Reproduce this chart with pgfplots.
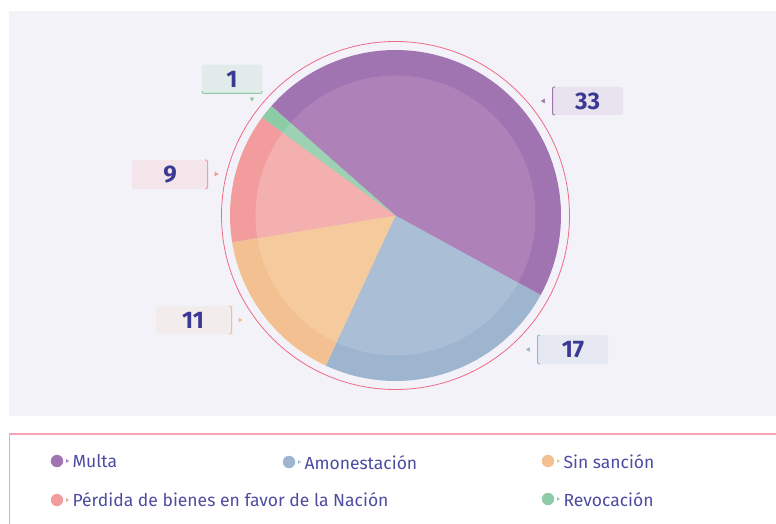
\documentclass[border=0pt]{standalone}
\usepackage{pgfplots}
\usepackage{pgfplotstable}
\pgfplotsset{compat=1.18}
\usepackage{fontspec}
\setmainfont{Fira Sans}
\definecolor{bgc}{HTML}{F3F2F8}
\definecolor{mO}{HTML}{A074B1}\definecolor{mI}{HTML}{AE82B9}
\definecolor{aO}{HTML}{9DB5CF}\definecolor{aI}{HTML}{AABED6}
\definecolor{sO}{HTML}{F2C091}\definecolor{sI}{HTML}{F5CB9E}
\definecolor{pO}{HTML}{F29C9E}\definecolor{pI}{HTML}{F4B0AF}
\definecolor{rO}{HTML}{8DCAA6}\definecolor{rI}{HTML}{9CD1B4}
\definecolor{ring}{HTML}{EE6A88}
\definecolor{txt}{HTML}{3A3A94}
\definecolor{ltxt}{HTML}{4C4CA0}
\definecolor{lgb}{HTML}{F4A3B6}
\pgfplotstableread{
name value
Multa 33
Amonestacion 17
Sin 11
Perdida 9
Revocacion 1
}\pietable
\begin{document}
\begin{tikzpicture}
\pgfplotstablegetelem{0}{value}\of\pietable \let\vA\pgfplotsretval
\pgfplotstablegetelem{1}{value}\of\pietable \let\vB\pgfplotsretval
\pgfplotstablegetelem{2}{value}\of\pietable \let\vC\pgfplotsretval
\pgfplotstablegetelem{3}{value}\of\pietable \let\vD\pgfplotsretval
\pgfplotstablegetelem{4}{value}\of\pietable \let\vE\pgfplotsretval
\pgfmathsetmacro{\tot}{\vA+\vB+\vC+\vD+\vE}
\pgfmathsetmacro{\aZ}{138.6}
\pgfmathsetmacro{\aA}{\aZ-360*\vA/\tot}
\pgfmathsetmacro{\aB}{\aA-360*\vB/\tot}
\pgfmathsetmacro{\aC}{\aB-360*\vC/\tot}
\pgfmathsetmacro{\aD}{\aC-360*\vD/\tot}
\pgfmathsetmacro{\aE}{\aD-360*\vE/\tot}
\def\cx{395.5}\def\cy{307.5}\def\R{165.5}\def\r{140}
\begin{axis}[name=main,width=776pt,height=523pt,scale only axis,
  xmin=0,xmax=776,ymin=0,ymax=523,hide axis,clip=true]
% background
\fill[bgc] (9,107) rectangle (790,512);
\draw[lgb,line width=1.2pt] (800,89) -- (9.5,89) -- (9.5,-20);
% ring
\draw[ring,line width=0.8pt] (\cx,\cy) circle[radius=174];
% outer wedges
\addplot[fill=mO,draw=none,domain=\aA:\aZ,samples=90,variable=\t] ({\cx+\R*cos(\t)},{\cy+\R*sin(\t)}) -- (\cx,\cy) -- cycle;
\addplot[fill=aO,draw=none,domain=\aB:\aA,samples=60,variable=\t] ({\cx+\R*cos(\t)},{\cy+\R*sin(\t)}) -- (\cx,\cy) -- cycle;
\addplot[fill=sO,draw=none,domain=\aC:\aB,samples=40,variable=\t] ({\cx+\R*cos(\t)},{\cy+\R*sin(\t)}) -- (\cx,\cy) -- cycle;
\addplot[fill=pO,draw=none,domain=\aD:\aC,samples=40,variable=\t] ({\cx+\R*cos(\t)},{\cy+\R*sin(\t)}) -- (\cx,\cy) -- cycle;
\addplot[fill=rO,draw=none,domain=\aE:\aD,samples=10,variable=\t] ({\cx+\R*cos(\t)},{\cy+\R*sin(\t)}) -- (\cx,\cy) -- cycle;
% inner wedges
\addplot[fill=mI,draw=none,domain=\aA:\aZ,samples=90,variable=\t] ({\cx+\r*cos(\t)},{\cy+\r*sin(\t)}) -- (\cx,\cy) -- cycle;
\addplot[fill=aI,draw=none,domain=\aB:\aA,samples=60,variable=\t] ({\cx+\r*cos(\t)},{\cy+\r*sin(\t)}) -- (\cx,\cy) -- cycle;
\addplot[fill=sI,draw=none,domain=\aC:\aB,samples=40,variable=\t] ({\cx+\r*cos(\t)},{\cy+\r*sin(\t)}) -- (\cx,\cy) -- cycle;
\addplot[fill=pI,draw=none,domain=\aD:\aC,samples=40,variable=\t] ({\cx+\r*cos(\t)},{\cy+\r*sin(\t)}) -- (\cx,\cy) -- cycle;
\addplot[fill=rI,draw=none,domain=\aE:\aD,samples=10,variable=\t] ({\cx+\r*cos(\t)},{\cy+\r*sin(\t)}) -- (\cx,\cy) -- cycle;
% value labels
\fill[rounded corners=2pt,fill=rO!18!bgc] (202,429) rectangle (262,458);
\draw[rO,line width=1pt,rounded corners=2pt] (202,432) -- (202,429.5) -- (262,429.5) -- (262,432);
\node[txt,font=\fontsize{24}{24}\selectfont\bfseries] at (232,443.5) {1};
\addplot[only marks,mark=triangle*,mark size=2.2,color=rO,mark options={rotate=180}] coordinates {(252,424)};
\fill[rounded corners=2pt,fill=mO!12!bgc] (552,408) rectangle (623,436);
\draw[mO,line width=1pt,rounded corners=2pt] (555,436) -- (552.5,436) -- (552.5,408) -- (555,408);
\node[txt,font=\fontsize{24}{24}\selectfont\bfseries] at (587.5,422) {33};
\addplot[only marks,mark=triangle*,mark size=2.2,color=mO,mark options={rotate=90}] coordinates {(543.5,422)};
\fill[rounded corners=2pt,fill=pO!15!bgc] (132,334) rectangle (208,363);
\draw[pO,line width=1pt,rounded corners=2pt] (205,363) -- (207.5,363) -- (207.5,334) -- (205,334);
\node[txt,font=\fontsize{24}{24}\selectfont\bfseries] at (170,348.5) {9};
\addplot[only marks,mark=triangle*,mark size=2.2,color=pO,mark options={rotate=-90}] coordinates {(216,349)};
\fill[rounded corners=2pt,fill=sO!12!bgc] (156,189) rectangle (232,217);
\draw[sO,line width=1pt,rounded corners=2pt] (229,217) -- (231.5,217) -- (231.5,189) -- (229,189);
\node[txt,font=\fontsize{24}{24}\selectfont\bfseries] at (193,203) {11};
\addplot[only marks,mark=triangle*,mark size=2.2,color=sO,mark options={rotate=-90}] coordinates {(240,203)};
\fill[rounded corners=2pt,fill=aO!15!bgc] (537,159) rectangle (608,188);
\draw[aO,line width=1pt,rounded corners=2pt] (540,188) -- (537.5,188) -- (537.5,159) -- (540,159);
\node[txt,font=\fontsize{24}{24}\selectfont\bfseries] at (573,173.5) {17};
\addplot[only marks,mark=triangle*,mark size=2.2,color=aO,mark options={rotate=90}] coordinates {(528.5,173.5)};
% legend
\addplot[only marks,mark=*,mark size=6,color=mO] coordinates {(57,62)};
\addplot[only marks,mark=triangle*,mark size=1.6,color=mO,mark options={rotate=-90}] coordinates {(67,62)};
\node[ltxt,anchor=base west,font=\fontsize{17.5}{18}\selectfont] at (69,56) {Multa};
\addplot[only marks,mark=*,mark size=6,color=aO] coordinates {(289,61)};
\addplot[only marks,mark=triangle*,mark size=1.6,color=aO,mark options={rotate=-90}] coordinates {(299,61)};
\node[ltxt,anchor=base west,font=\fontsize{17.5}{18}\selectfont] at (301,54) {Amonestación};
\addplot[only marks,mark=*,mark size=6,color=sO] coordinates {(548,62)};
\addplot[only marks,mark=triangle*,mark size=1.6,color=sO,mark options={rotate=-90}] coordinates {(558,62)};
\node[ltxt,anchor=base west,font=\fontsize{17.5}{18}\selectfont] at (560,55) {Sin sanción};
\addplot[only marks,mark=*,mark size=6,color=pO] coordinates {(57,23)};
\addplot[only marks,mark=triangle*,mark size=1.6,color=pO,mark options={rotate=-90}] coordinates {(67,23)};
\node[ltxt,anchor=base west,font=\fontsize{17.5}{18}\selectfont] at (69,17) {Pérdida de bienes en favor de la Nación};
\addplot[only marks,mark=*,mark size=6,color=rO] coordinates {(548,24)};
\addplot[only marks,mark=triangle*,mark size=1.6,color=rO,mark options={rotate=-90}] coordinates {(558,24)};
\node[ltxt,anchor=base west,font=\fontsize{17.5}{18}\selectfont] at (560,17) {Revocación};
\end{axis}
\pgfresetboundingbox
\path[use as bounding box] (main.south west) rectangle (main.north east);
\end{tikzpicture}
\end{document}
